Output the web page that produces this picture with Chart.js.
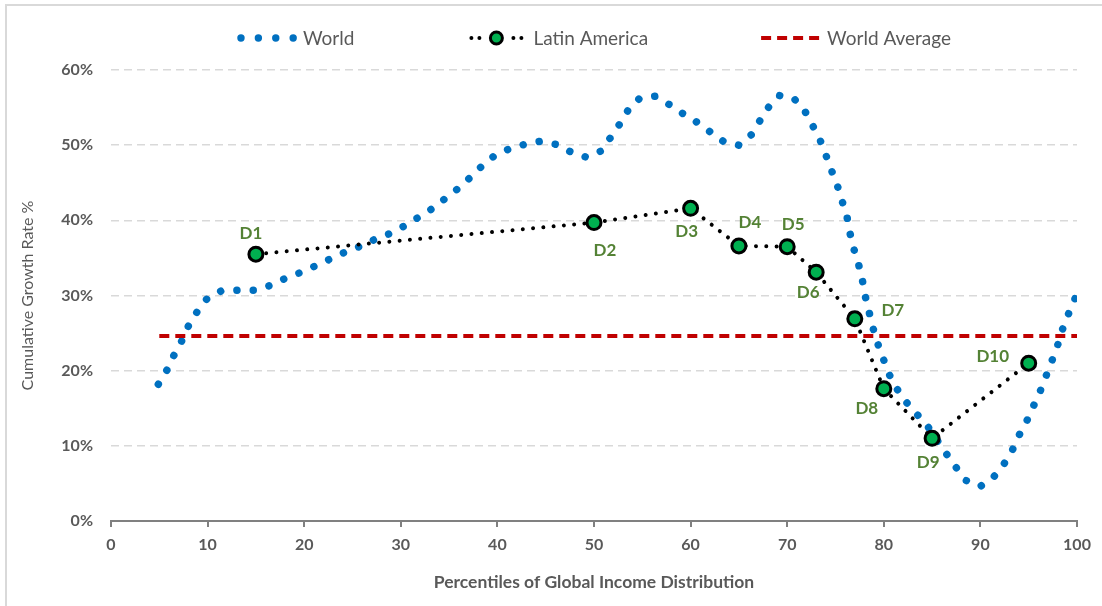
<!DOCTYPE html>
<html>
<head>
<meta charset="utf-8">
<script src="https://cdn.jsdelivr.net/npm/chart.js@4.4.1/dist/chart.umd.min.js"></script>
<style>
  html, body { margin: 0; padding: 0; background: #fff; }
  #wrap { position: relative; width: 1102px; height: 606px; }
</style>
</head>
<body>
<div id="wrap"><canvas id="chart"></canvas></div>
<script>
// ---- data ----
var WORLD_X = [4.9, 5.8, 6.5, 7.3, 8.0, 8.9, 9.9, 11.4, 13.1, 14.8, 16.4, 17.9, 19.5, 21.1, 22.6, 24.1, 25.7, 27.2, 28.8,
  30.3, 31.7, 33.2, 34.5, 35.8, 37.1, 38.3, 39.6, 41.2, 42.8, 44.4, 46.1, 47.6, 49.2, 50.7, 51.7, 52.6, 53.5, 54.7, 56.3,
  57.8, 59.2, 60.6, 62.0, 63.4, 65.0, 66.3, 67.2, 68.1, 69.2, 70.7, 71.8, 72.6, 73.4, 74.0, 74.6, 75.2, 75.7, 76.2, 76.5,
  76.9, 77.4, 77.8, 78.1, 78.5, 78.9, 79.4, 80.0, 80.6, 81.4, 82.4, 83.5, 84.6, 86.5, 87.5, 88.5, 90.0, 91.4, 92.4, 93.3,
  94.0, 94.8, 95.5, 96.2, 96.8, 97.4, 98.0, 98.5, 99.1, 99.8];
var WORLD_Y = [18.2, 20.1, 22.0, 23.9, 25.9, 27.8, 29.5, 30.6, 30.7, 30.7, 31.3, 32.2, 33.0, 33.9, 34.8, 35.7, 36.5, 37.4, 38.2,
  39.2, 40.3, 41.5, 42.8, 44.1, 45.6, 47.1, 48.5, 49.5, 50.1, 50.5, 50.1, 49.1, 48.4, 49.2, 51.0, 52.7, 54.6, 56.2, 56.5,
  55.4, 54.2, 53.1, 51.8, 50.5, 50.0, 51.4, 53.3, 55.1, 56.6, 56.2, 54.6, 52.7, 50.7, 48.7, 46.6, 44.6, 42.5, 40.4, 38.3,
  36.2, 34.1, 31.9, 29.8, 27.7, 25.6, 23.5, 21.4, 19.4, 17.5, 15.7, 14.1, 12.5, 8.9, 7.1, 5.4, 4.6, 5.9, 7.5, 9.4,
  11.4, 13.3, 15.3, 17.3, 19.3, 21.3, 23.4, 25.5, 27.5, 29.6];

var LATAM_X = [15, 50, 60, 65, 70, 73, 77, 80, 85, 95];
var LATAM_Y = [35.5, 39.7, 41.6, 36.6, 36.5, 33.1, 26.9, 17.6, 11.0, 21.0];
var LATAM_LABELS = ["D1", "D2", "D3", "D4", "D5", "D6", "D7", "D8", "D9", "D10"];

var AVG_X = [5, 100];
var AVG_Y = [24.6, 24.6];

var X_TICKS = [0, 10, 20, 30, 40, 50, 60, 70, 80, 90, 100];
var Y_TICKS = [0, 10, 20, 30, 40, 50, 60];

var SERIES = ["World", "Latin America", "World Average"];

function pts(xs, ys) { return xs.map(function (x, i) { return { x: x, y: ys[i] }; }); }

var FONT = "Lato, 'Open Sans', sans-serif";
var GREY = "#595959";
var BLUE = "#0070C0", RED = "#C00000", GREEN = "#00B050", LABEL_GREEN = "#548235";

// label placement around each Latin America marker (pixels from the marker centre)
var LABEL_OFF = { D1: [-5, -21], D2: [11, 28], D3: [-4, 23], D4: [11, -23], D5: [6, -22],
  D6: [-8, 20], D7: [38, -8], D8: [-17, 20], D9: [-4, 24], D10: [-36, -7] };

var framePlugin = {
  id: "frame",
  beforeDraw: function (chart) {
    var c = chart.ctx;
    c.save();
    c.fillStyle = "#fff";
    c.fillRect(0, 0, chart.width, chart.height);
    c.strokeStyle = "#D9D9D9"; c.lineWidth = 2;
    c.beginPath();
    c.moveTo(6, chart.height); c.lineTo(6, 5); c.lineTo(chart.width, 5);
    c.stroke();
    c.restore();
  }
};

var labelPlugin = {
  id: "dlabels",
  afterDatasetsDraw: function (chart) {
    var meta = chart.getDatasetMeta(0), c = chart.ctx;
    c.save();
    c.font = "bold 17px " + FONT;
    c.fillStyle = LABEL_GREEN;
    c.textAlign = "center"; c.textBaseline = "middle";
    meta.data.forEach(function (p, i) {
      var t = LATAM_LABELS[i], o = LABEL_OFF[t] || [0, -20];
      c.fillText(t, p.x + o[0], p.y + o[1]);
    });
    c.restore();
  }
};

var legendPlugin = {
  id: "toplegend",
  afterDraw: function (chart) {
    var c = chart.ctx, a = chart.chartArea;
    var y = 38, icon = 58, gapIn = 8, gapOut = 113;
    c.save();
    c.font = "19px " + FONT;
    var widths = SERIES.map(function (s) { return c.measureText(s).width; });
    var total = 0;
    widths.forEach(function (w, i) { total += icon + gapIn + w + (i ? gapOut : 0); });
    var x = (a.left + a.right) / 2 - total / 2;
    SERIES.forEach(function (s, i) {
      var x0 = x, x1 = x + icon;
      if (i === 0) {
        c.fillStyle = BLUE;
        for (var k = 0; k < 4; k++) { c.beginPath(); c.arc(x0 + 4 + k * 17.4, y, 3.7, 0, Math.PI * 2); c.fill(); }
      } else if (i === 1) {
        c.fillStyle = "#000";
        [4, 12, 46, 54].forEach(function (d) { c.beginPath(); c.arc(x0 + d, y, 2, 0, Math.PI * 2); c.fill(); });
        c.beginPath(); c.arc(x0 + 29, y, 6, 0, Math.PI * 2);
        c.fillStyle = GREEN; c.fill(); c.lineWidth = 3; c.strokeStyle = "#000"; c.stroke();
      } else {
        c.strokeStyle = RED; c.lineWidth = 4; c.setLineDash([10, 6]);
        c.beginPath(); c.moveTo(x0, y); c.lineTo(x1, y); c.stroke(); c.setLineDash([]);
      }
      c.fillStyle = GREY; c.textAlign = "left"; c.textBaseline = "middle";
      c.fillText(s, x1 + gapIn, y + 1);
      x = x1 + gapIn + widths[i] + gapOut;
    });
    c.restore();
  }
};

new Chart(document.getElementById("chart"), {
  type: "line",
  data: {
    datasets: [
      { label: SERIES[1], data: pts(LATAM_X, LATAM_Y), order: 0,
        borderColor: "#000", borderWidth: 4, borderDash: [0.01, 10.3], borderCapStyle: "round",
        pointRadius: 7, pointBackgroundColor: GREEN, pointBorderColor: "#000", pointBorderWidth: 3, tension: 0 },
      { label: SERIES[2], data: pts(AVG_X, AVG_Y), order: 1,
        borderColor: RED, borderWidth: 4, borderDash: [10, 6], pointRadius: 0 },
      { label: SERIES[0], data: pts(WORLD_X, WORLD_Y), order: 2,
        borderColor: BLUE, borderWidth: 7.5, borderDash: [0.01, 16.3], borderCapStyle: "round", borderJoinStyle: "round",
        pointRadius: 0, tension: 0 }
    ]
  },
  options: {
    responsive: true, maintainAspectRatio: false, animation: false,
    layout: { padding: { top: 70, right: 25, left: 0, bottom: 0 } },
    plugins: { legend: { display: false }, tooltip: { enabled: false } },
    scales: {
      x: {
        type: "linear", min: 0, max: 100,
        afterBuildTicks: function (s) { s.ticks = X_TICKS.map(function (v) { return { value: v }; }); },
        afterFit: function (s) { s.height = 85; },
        ticks: { color: GREY, font: { family: FONT, size: 16, weight: "bold" }, padding: 8, maxRotation: 0 },
        grid: { drawOnChartArea: false, tickLength: 6, color: "#808080", lineWidth: 2 },
        border: { color: "#808080", width: 2 },
        title: { display: true, text: "Percentiles of Global Income Distribution", color: GREY,
          font: { family: FONT, size: 17.5, weight: "bold" }, padding: { top: 6, bottom: 13 } }
      },
      y: {
        min: 0, max: 60,
        afterBuildTicks: function (s) { s.ticks = Y_TICKS.map(function (v) { return { value: v }; }); },
        afterFit: function (s) { s.width = 111; },
        ticks: { color: GREY, font: { family: FONT, size: 16, weight: "bold" }, padding: 18,
          callback: function (v) { return v + "%"; } },
        grid: { drawTicks: false, lineWidth: 1.5,
          color: function (ctx) { return ctx.tick && ctx.tick.value === 0 ? "rgba(0,0,0,0)" : "#D9D9D9"; } },
        border: { display: false, dash: [8, 5] },
        title: { display: true, text: "Cumulative Growth Rate %", color: GREY,
          font: { family: FONT, size: 16 }, padding: { top: 18, bottom: 0 } }
      }
    }
  },
  plugins: [framePlugin, labelPlugin, legendPlugin]
});
</script>
</body>
</html>
